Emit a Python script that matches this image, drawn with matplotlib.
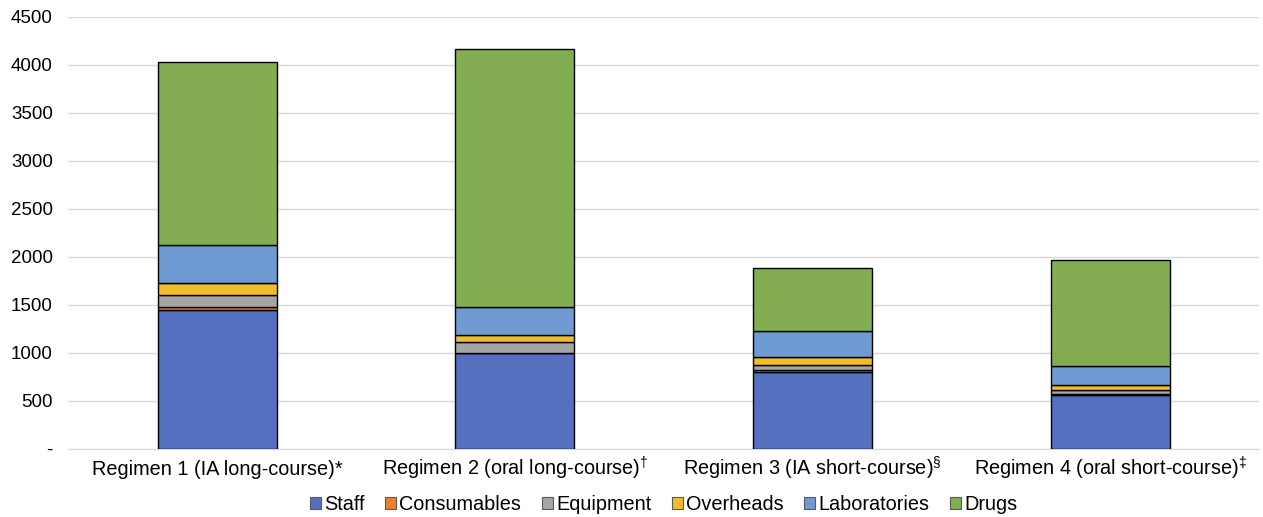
import numpy as np
import matplotlib.pyplot as plt

plt.rcParams['font.family'] = ['Liberation Sans', 'DejaVu Sans']
plt.rcParams['mathtext.fontset'] = 'custom'
plt.rcParams['mathtext.rm'] = 'Liberation Sans'

# data
regimens = ['Regimen 1 (IA long-course)*',
            'Regimen 2 (oral long-course)$^{\\dagger}$',
            'Regimen 3 (IA short-course)$^{\\S}$',
            'Regimen 4 (oral short-course)$^{\\ddagger}$']
components = ['Staff', 'Consumables', 'Equipment', 'Overheads', 'Laboratories', 'Drugs']
staff = [1441, 997, 799, 563]
consumables = [32, 5, 24, 10]
equipment = [128, 106, 52, 42]
overheads = [125, 80, 76, 45]
laboratories = [399, 284, 271, 198]
drugs = [1897, 2685, 664, 1112]

colors = ['#5470bf', '#ed7d31', '#a5a5a5', '#f2bd2c', '#6f9bd2', '#82ad52']
series = [staff, consumables, equipment, overheads, laboratories, drugs]

fig = plt.figure(figsize=(12.63, 5.17), dpi=100)
ax = fig.add_axes([0.054, 0.132, 0.943, 0.836])

x = np.arange(len(regimens))
bottom = np.zeros(len(regimens))
for name, vals, c in zip(components, series, colors):
    ax.bar(x, vals, width=0.4, bottom=bottom, color=c, edgecolor='black',
           linewidth=1, label=name, zorder=3)
    bottom += np.array(vals)

ax.set_xlim(-0.5, 3.5)
ax.set_ylim(0, 4500)
ax.set_yticks(range(0, 4501, 500))
ax.set_yticklabels(['-'] + [str(v) for v in range(500, 4501, 500)])
ax.set_xticks(x)
ax.set_xticklabels(regimens, fontsize=14.3)
for lab in ax.get_xticklabels():
    lab.set_va('baseline')
ax.tick_params(axis='y', labelsize=13.5, length=0, pad=11)
ax.tick_params(axis='x', length=0, pad=19)
ax.yaxis.grid(True, color='#d9d9d9', linewidth=1, zorder=0)
for s in ['top', 'right', 'left']:
    ax.spines[s].set_visible(False)
ax.spines['bottom'].set_color('#d9d9d9')

leg = ax.legend(loc='center', bbox_to_anchor=(0.5, -0.13), ncol=6, frameon=False,
                fontsize=14.3, handlelength=0.55, handleheight=0.55, handletextpad=0.15,
                columnspacing=1.05)
for h in leg.legend_handles:
    h.set_edgecolor('#595959')
    h.set_linewidth(0.8)

plt.savefig('out.png', dpi=100)
